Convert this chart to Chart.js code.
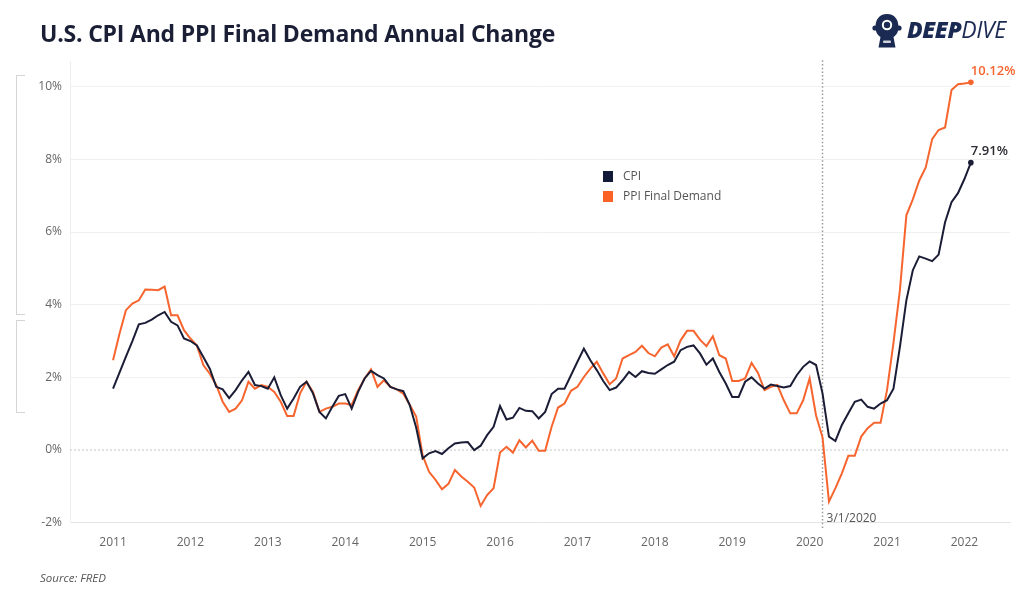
<!DOCTYPE html>
<html>
<head>
<meta charset="utf-8">
<script src="https://cdn.jsdelivr.net/npm/chart.js@4.4.0/dist/chart.umd.min.js"></script>
<style>
  html, body { margin:0; padding:0; background:#fff; }
  #wrap { position:relative; width:1024px; height:589px; overflow:hidden; font-family:'Open Sans', sans-serif; }
  #c { position:absolute; left:0; top:0; }
  .title { position:absolute; left:40px; top:17px; font-size:23px; font-weight:700; color:#1b1f36; letter-spacing:-0.2px; white-space:nowrap; }
  .logo { position:absolute; left:907px; top:13px; font-size:23px; font-style:italic; color:#1b2a52; white-space:nowrap; letter-spacing:-0.4px; }
  .logo b { font-weight:800; }
  .logo span { font-weight:500; }
  .helmet { position:absolute; left:872px; top:13px; width:30px; height:36px; }
  .leg { position:absolute; font-size:12px; color:#555; white-space:nowrap; }
  .sw { position:absolute; width:10px; height:11px; }
  .src { position:absolute; left:40px; top:570px; font-size:11.5px; font-style:italic; color:#555; }
  .br { position:absolute; left:16px; width:8px; border:1px solid #d4d4d4; border-right:none; }
</style>
</head>
<body>
<div id="wrap">
  <canvas id="c" width="1024" height="589"></canvas>
  <div class="title">U.S. CPI And PPI Final Demand Annual Change</div>
  <svg class="helmet" viewBox="0 0 30 36">
    <path d="M15 1 C7 1 3.5 7 3.5 14 C3.5 19 5.5 22 8.5 24 L6.5 34.5 L23.5 34.5 L21.5 24 C24.5 22 26.5 19 26.5 14 C26.5 7 23 1 15 1Z" fill="#1b2a52"/>
    <circle cx="3" cy="15" r="2.6" fill="#1b2a52"/>
    <circle cx="27" cy="15" r="2.6" fill="#1b2a52"/>
    <circle cx="15" cy="12" r="5.2" fill="#fff"/>
    <circle cx="15" cy="12" r="3.2" fill="#1b2a52"/>
    <rect x="11" y="27.5" width="8" height="2.5" rx="1" fill="#fff" opacity="0.8"/>
  </svg>
  <div class="logo"><b>DEEP</b><span>DIVE</span></div>
  <div class="sw" style="left:603px;top:171px;background:#111a36;"></div>
  <div class="leg" style="left:623px;top:167px;">CPI</div>
  <div class="sw" style="left:603px;top:191px;background:#fb6227;"></div>
  <div class="leg" style="left:623px;top:187px;">PPI Final Demand</div>
  <div class="br" style="top:75px;height:238px;"></div>
  <div class="br" style="top:320px;height:91px;"></div>
  <div class="src">Source: FRED</div>
</div>
<script>
// ---- data (monthly, Jan 2011 .. Feb 2022), annual % change ----
const startYear = 2011;
const cpi = [
  1.69,2.13,2.57,3.0,3.46,3.5,3.59,3.71,3.8,3.53,3.43,3.07,
  3.0,2.88,2.56,2.24,1.74,1.67,1.43,1.65,1.92,2.15,1.79,1.76,
  1.69,2.0,1.51,1.14,1.42,1.74,1.88,1.56,1.05,0.87,1.19,1.49,
  1.54,1.14,1.6,1.97,2.18,2.06,1.97,1.74,1.67,1.62,1.24,0.62,
  -0.23,-0.09,-0.03,-0.11,0.05,0.18,0.21,0.22,0.0,0.12,0.41,0.64,
  1.21,0.84,0.89,1.16,1.08,1.07,0.87,1.05,1.54,1.69,1.69,2.06,
  2.43,2.79,2.47,2.2,1.9,1.65,1.72,1.92,2.15,2.01,2.17,2.12,
  2.1,2.22,2.34,2.43,2.75,2.84,2.88,2.66,2.35,2.52,2.15,1.83,
  1.46,1.46,1.88,2.0,1.83,1.69,1.8,1.76,1.72,1.76,2.06,2.29,
  2.44,2.34,1.56,0.37,0.25,0.69,1.01,1.33,1.39,1.19,1.14,1.28,
  1.37,1.69,2.84,4.12,4.95,5.33,5.27,5.2,5.38,6.27,6.82,7.07,
  7.46,7.91
];
const ppi = [
  2.47,3.2,3.85,4.03,4.12,4.42,4.41,4.4,4.5,3.71,3.71,3.3,
  3.07,2.88,2.34,2.1,1.79,1.33,1.05,1.14,1.37,1.88,1.69,1.79,
  1.74,1.6,1.33,0.94,0.94,1.56,1.88,1.6,1.05,1.14,1.19,1.28,
  1.28,1.24,1.65,1.97,2.22,1.74,1.92,1.74,1.67,1.55,1.25,0.92,
  -0.15,-0.6,-0.82,-1.08,-0.93,-0.55,-0.73,-0.87,-1.03,-1.54,-1.24,-1.05,
  -0.07,0.09,-0.07,0.27,0.07,0.26,-0.02,-0.02,0.64,1.17,1.28,1.63,
  1.74,2.01,2.24,2.43,2.11,1.81,1.97,2.52,2.61,2.7,2.87,2.67,
  2.58,2.82,2.91,2.58,3.02,3.28,3.28,3.04,2.86,3.13,2.61,2.52,
  1.9,1.9,1.97,2.4,2.12,1.65,1.74,1.79,1.37,1.01,1.01,1.37,
  1.97,0.95,0.35,-1.42,-1.05,-0.64,-0.16,-0.16,0.37,0.6,0.75,0.75,
  1.65,2.95,4.4,6.46,6.9,7.42,7.78,8.56,8.81,8.88,9.91,10.07,
  10.09,10.12
];
const yearTicks = [2011,2012,2013,2014,2015,2016,2017,2018,2019,2020,2021,2022];
const yTicks = [-2,0,2,4,6,8,10];
const markerDate = 2020 + 2/12;   // 3/1/2020
const markerLabel = '3/1/2020';

const toPts = arr => arr.map((v,i) => ({x: startYear + i/12, y: v}));
const CPI_COLOR = '#1a1d35';
const PPI_COLOR = '#f7652f';
const FONT = "'Open Sans', sans-serif";

const annot = {
  id: 'annot',
  beforeDatasetsDraw(chart) {
    const {ctx, chartArea, scales:{x,y}} = chart;
    ctx.save();
    const y0 = y.getPixelForValue(0);
    ctx.strokeStyle = '#c4c4c4'; ctx.lineWidth = 1; ctx.setLineDash([2,2]);
    ctx.beginPath(); ctx.moveTo(chartArea.left, y0); ctx.lineTo(chartArea.right, y0); ctx.stroke();
    const xm = x.getPixelForValue(markerDate);
    ctx.strokeStyle = '#9a9a9a'; ctx.lineWidth = 1.5; ctx.setLineDash([1.5,2.2]);
    ctx.beginPath(); ctx.moveTo(xm, chartArea.top - 1); ctx.lineTo(xm, chartArea.bottom + 6); ctx.stroke();
    ctx.setLineDash([]);
    ctx.fillStyle = '#555'; ctx.font = '12px ' + FONT; ctx.textAlign = 'left'; ctx.textBaseline = 'middle';
    ctx.fillText(markerLabel, xm + 4, chartArea.bottom - 4);
    ctx.restore();
  },
  afterDatasetsDraw(chart) {
    const {ctx} = chart;
    ctx.save();
    ctx.font = '600 13px ' + FONT; ctx.textAlign = 'left'; ctx.textBaseline = 'middle';
    chart.data.datasets.forEach((ds, i) => {
      const meta = chart.getDatasetMeta(i);
      const p = meta.data[meta.data.length - 1];
      const v = ds.data[ds.data.length - 1].y;
      ctx.fillStyle = i === 0 ? '#2b2b33' : PPI_COLOR;
      ctx.fillText(v.toFixed(2) + '%', p.x, p.y - 11.5);
    });
    ctx.restore();
  }
};

const lastOnly = ctx => ctx.dataIndex === ctx.dataset.data.length - 1 ? 2.8 : 0;

new Chart(document.getElementById('c'), {
  type: 'line',
  data: {
    datasets: [
      { label: 'CPI', data: toPts(cpi), borderColor: CPI_COLOR, backgroundColor: CPI_COLOR,
        borderWidth: 2, tension: 0, pointRadius: lastOnly, pointBackgroundColor: CPI_COLOR, pointBorderWidth: 0 },
      { label: 'PPI Final Demand', data: toPts(ppi), borderColor: PPI_COLOR, backgroundColor: PPI_COLOR,
        borderWidth: 2, tension: 0, pointRadius: lastOnly, pointBackgroundColor: PPI_COLOR, pointBorderWidth: 0 }
    ]
  },
  options: {
    responsive: false, animation: false, devicePixelRatio: 1,
    layout: { padding: { top: 61.3, right: 14, left: 0, bottom: 26.3 } },
    plugins: { legend: { display: false }, tooltip: { enabled: false } },
    scales: {
      x: {
        type: 'linear', min: 2010.444, max: 2022.589,
        afterFit(s) { s.height = 40; },
        afterBuildTicks(s) { s.ticks = yearTicks.map(v => ({value: v})); },
        ticks: { color: '#666', font: { family: FONT, size: 12 }, padding: 13, callback: v => String(v), maxRotation: 0, autoSkip: false },
        grid: { display: false, drawTicks: false },
        border: { display: true, color: '#e4e4e4' }
      },
      y: {
        min: -2, max: 10.7,
        afterFit(s) { s.width = 70; },
        afterBuildTicks(s) { s.ticks = yTicks.map(v => ({value: v})); },
        ticks: { color: '#666', font: { family: FONT, size: 12 }, padding: 8, callback: v => v + '%' },
        grid: { drawTicks: false, color: ctx => ctx.tick && ctx.tick.value === 0 ? 'rgba(0,0,0,0)' : '#f0f0f0', lineWidth: 1 },
        border: { display: true, color: '#efefef' }
      }
    }
  },
  plugins: [annot]
});
</script>
</body>
</html>
